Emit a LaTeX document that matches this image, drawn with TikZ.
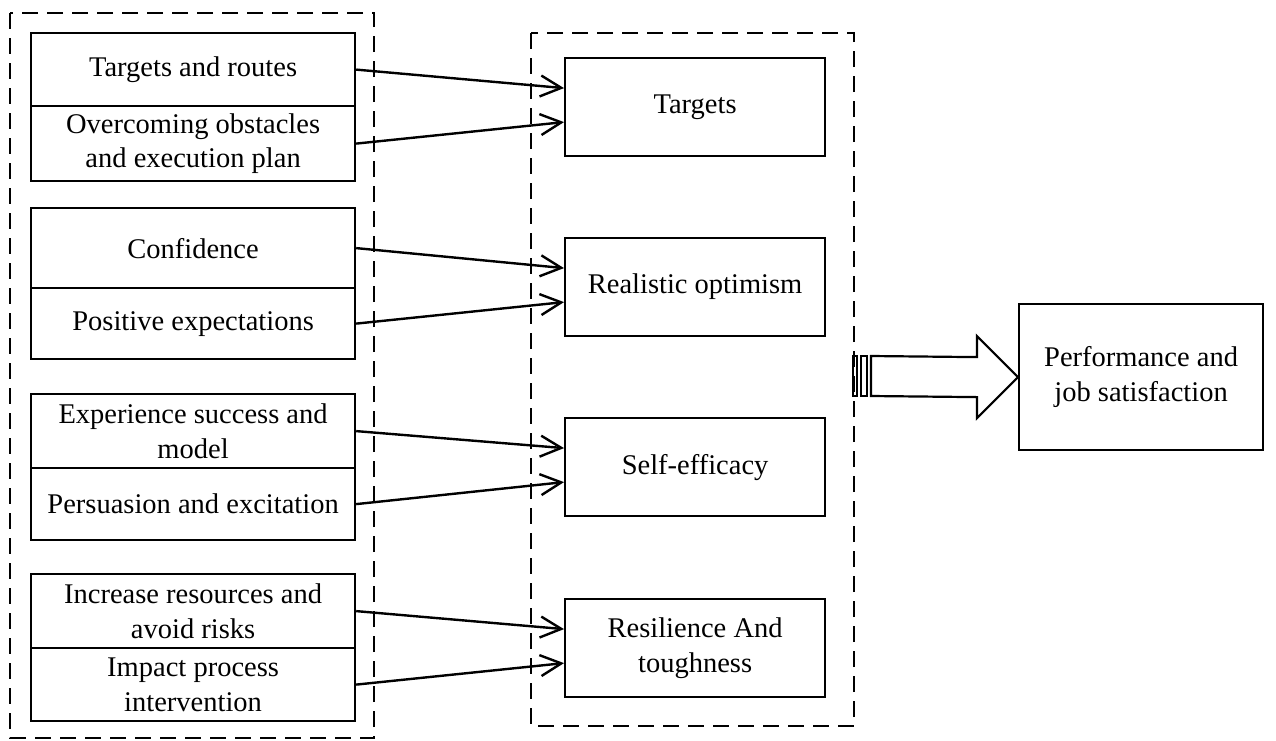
\documentclass[tikz,border=0pt]{standalone}
\usepackage{fontspec}
\setmainfont{Liberation Serif}
\usetikzlibrary{arrows.meta,calc}
\begin{document}
\begin{tikzpicture}[x=1pt,y=-1pt,
  lw/.style={line width=2.2pt},
  txt/.style={font=\fontsize{28.5}{34.5}\selectfont, align=center},
  lbox/.style={draw, lw, txt, minimum width=324pt, inner sep=0pt, anchor=north west},
  mbox/.style={draw, lw, txt, minimum width=260pt, minimum height=98pt, inner sep=0pt, anchor=north west},
  group/.style={draw, line width=2pt, dash pattern=on 16pt off 9pt},
  conn/.style={line width=2.4pt, -{Straight Barb[length=21pt,width=21pt,line width=2.4pt]}},
  bigarrow/.style={draw, lw, fill=white, line join=miter}
]
\useasboundingbox (0,0) rectangle (1276,740);

% dashed groups
\draw[group] (10,13) rectangle (374,738);
\draw[group] (531,33) rectangle (854,726);
\coordinate (mgE) at (854,376);

% left boxes
\node[lbox, minimum height=73pt] (a1) at (30,32) {Targets and routes};
\node[lbox, minimum height=75pt] (a2) at (30,105) {Overcoming obstacles\\and execution plan};
\node[lbox, minimum height=80pt] (b1) at (30,207) {Confidence};
\node[lbox, minimum height=71pt] (b2) at (30,287) {Positive expectations};
\node[lbox, minimum height=74pt] (c1) at (30,393) {Experience success and\\model};
\node[lbox, minimum height=72pt] (c2) at (30,467) {Persuasion and excitation};
\node[lbox, minimum height=74pt] (d1) at (30,573) {Increase resources and\\avoid risks};
\node[lbox, minimum height=73pt] (d2) at (30,647) {Impact process\\intervention};

% middle boxes
\node[mbox] (T) at (564,57) {Targets};
\node[mbox] (R) at (564,237) {Realistic optimism};
\node[mbox] (S) at (564,417) {Self-efficacy};
\node[mbox] (Re) at (564,598) {Resilience And\\toughness};

% right box
\node[draw, lw, txt, minimum width=244pt, minimum height=146pt, inner sep=0pt, anchor=north west] (P) at (1018,303) {Performance and\\job satisfaction};

% connectors
\foreach \s/\t in {a1/T, b1/R, c1/S, d1/Re}
  \draw[conn] (\s.east) -- ($(\t.west)+(0,-19)$);
\foreach \s/\t in {a2/T, b2/R, c2/S, d2/Re}
  \draw[conn] (\s.east) -- ($(\t.west)+(0,15)$);

% big striped arrow
\coordinate (tip) at (P.west);
\draw[lw] ($(mgE)+(-1,-20)$) rectangle ($(mgE)+(3,20)$);
\draw[lw] ($(mgE)+(7,-20)$) rectangle ($(mgE)+(13,20)$);
\draw[bigarrow] ($(mgE)+(17,-20)$) -- ($(tip)+(-41,-20)$) -- ($(tip)+(-41,-41)$) -- (tip)
  -- ($(tip)+(-41,41)$) -- ($(tip)+(-41,20)$) -- ($(mgE)+(17,20)$) -- cycle;
\end{tikzpicture}
\end{document}
